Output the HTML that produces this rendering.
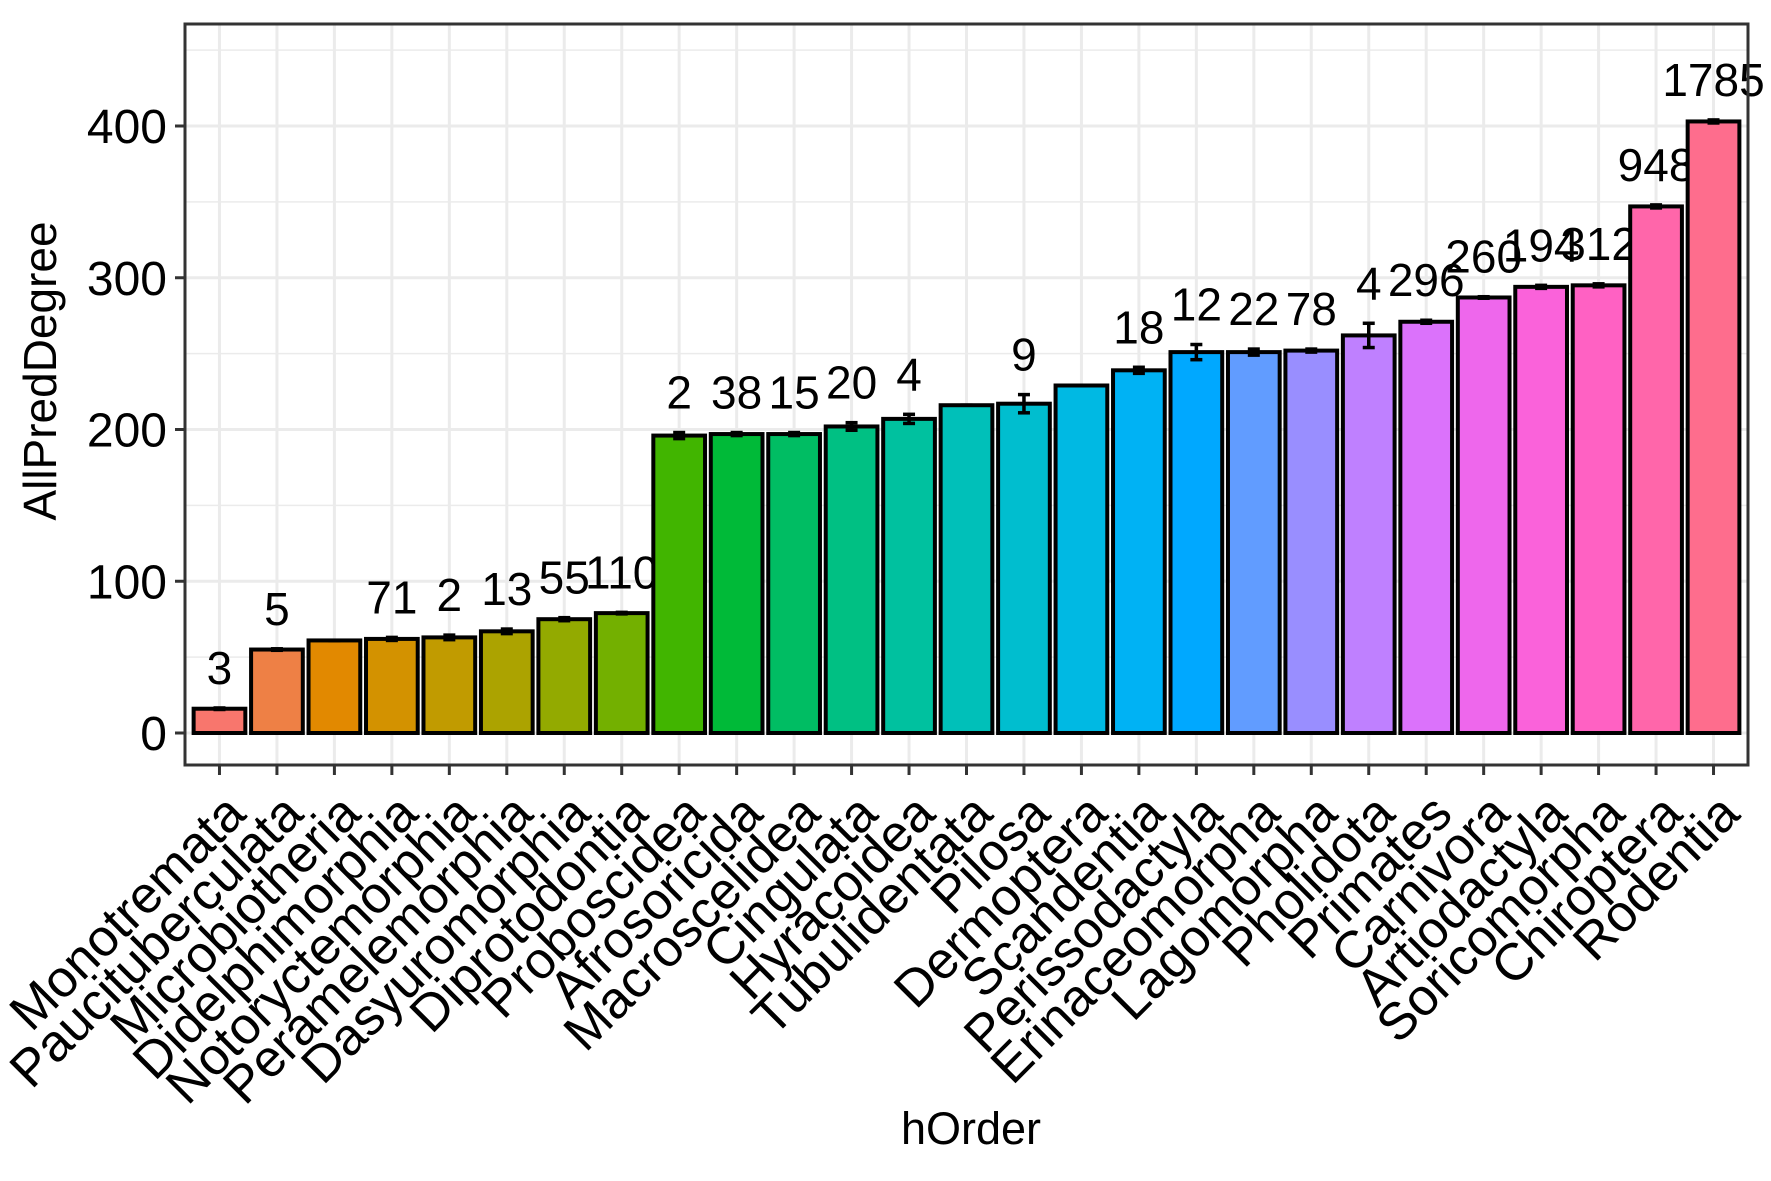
<!DOCTYPE html>
<html><head><meta charset="utf-8"><style>
html,body{margin:0;padding:0;background:#fff;}
svg{display:block;font-family:"Liberation Sans",Arial,sans-serif;}
</style></head><body>
<svg id="chart" width="1771" height="1181" viewBox="0 0 1771 1181" xmlns="http://www.w3.org/2000/svg">
<rect x="0" y="0" width="1771" height="1181" fill="#fff"/>
<g id="grid"></g>
<g id="bars"></g>
<g id="axes"></g>
<text x="44" y="371" transform="rotate(-90 44 371)" text-anchor="middle" dominant-baseline="middle" font-size="46" fill="#000">AllPredDegree</text>
<text x="971" y="1144" text-anchor="middle" font-size="45" fill="#000">hOrder</text>
</svg>
<script>
const categories = ["Monotremata","Paucituberculata","Microbiotheria","Didelphimorphia","Notoryctemorphia","Peramelemorphia","Dasyuromorphia","Diprotodontia","Proboscidea","Afrosoricida","Macroscelidea","Cingulata","Hyracoidea","Tubulidentata","Pilosa","Dermoptera","Scandentia","Perissodactyla","Erinaceomorpha","Lagomorpha","Pholidota","Primates","Carnivora","Artiodactyla","Soricomorpha","Chiroptera","Rodentia"];
const values = [16,55,61,62,63,67,75,79,196,197,197,202,207,216,217,229,239,251,251,252,262,271,287,294,295,347,403];
const errors = [0.5,0.5,0,1,1.5,1.5,1,0.5,2,1,1,2.5,3,0,6,0,2,5,2,1,8,1,0.5,1,1,1,1];
const counts = ["3","5","","71","2","13","55","110","2","38","15","20","4","","9","","18","12","22","78","4","296","260","194","312","948","1785"];
const yTicks = [0,100,200,300,400];

const NS="http://www.w3.org/2000/svg";
const L=185,R=1748,T=24,B=765;
const y0px=733, pxPerUnit=(733-126)/400;
function ys(v){return y0px - v*pxPerUnit;}
const step=(R-L)/(categories.length+0.2);
function xs(i){return L + step*(0.6+i);}
const bw=step*0.9;

function hcl(h,c,l){
  const hr=h*Math.PI/180;
  const Xn=95.047,Yn=100,Zn=108.883;
  const un=4*Xn/(Xn+15*Yn+3*Zn), vn=9*Yn/(Xn+15*Yn+3*Zn);
  const u=c*Math.cos(hr), v=c*Math.sin(hr);
  const Y=Yn*Math.pow((l+16)/116,3);
  const up=u/(13*l)+un, vp=v/(13*l)+vn;
  const X=Y*9*up/(4*vp), Z=Y*(12-3*up-20*vp)/(4*vp);
  const x=X/100,y=Y/100,z=Z/100;
  let r=3.2404542*x-1.5371385*y-0.4985314*z;
  let g=-0.9692660*x+1.8760108*y+0.0415560*z;
  let b=0.0556434*x-0.2040259*y+1.0572252*z;
  const gam=t=>{t=t<=0.0031308?12.92*t:1.055*Math.pow(t,1/2.4)-0.055;return Math.round(Math.max(0,Math.min(1,t))*255);};
  return "rgb("+gam(r)+","+gam(g)+","+gam(b)+")";
}
function mk(tag,attrs,parent){const e=document.createElementNS(NS,tag);for(const k in attrs)e.setAttribute(k,attrs[k]);parent.appendChild(e);return e;}

const grid=document.getElementById('grid'),bars=document.getElementById('bars'),axes=document.getElementById('axes');
let bg=mk('rect',{x:L,y:T,width:R-L,height:B-T,fill:'#fff'},grid);


for(let i=0;i<yTicks.length;i++){
  const mv=yTicks[i]+50; const py=ys(mv);
  if(py>T){let g=mk('line',{x1:L,x2:R,y1:py,y2:py,stroke:'#ebebeb','stroke-width':1.5},grid);
  
  }
}
yTicks.forEach(v=>{let g=mk('line',{x1:L,x2:R,y1:ys(v),y2:ys(v),stroke:'#ebebeb','stroke-width':3},grid);
  
  });
categories.forEach((c,i)=>{let g=mk('line',{x1:xs(i),x2:xs(i),y1:T,y2:B,stroke:'#ebebeb','stroke-width':3},grid);
  
  });

const n=categories.length;
categories.forEach((c,i)=>{
  const hue=15+360*i/n;
  const top=ys(values[i]);
  let r=mk('rect',{x:xs(i)-bw/2,y:top,width:bw,height:ys(0)-top,fill:hcl(hue,100,65),stroke:'#000','stroke-width':4},bars);
  
  
  const e=errors[i];
  const eg=mk('g',{stroke:'#000','stroke-width':3.5},bars);
  
  
  mk('line',{x1:xs(i),x2:xs(i),y1:ys(values[i]+e),y2:ys(values[i]-e)},eg);
  mk('line',{x1:xs(i)-6,x2:xs(i)+6,y1:ys(values[i]+e),y2:ys(values[i]+e)},eg);
  mk('line',{x1:xs(i)-6,x2:xs(i)+6,y1:ys(values[i]-e),y2:ys(values[i]-e)},eg);
  if(counts[i]){
    let t=mk('text',{x:xs(i),y:ys(values[i]+e)-24,'text-anchor':'middle','font-size':46,fill:'#000'},bars);
    t.textContent=counts[i];
    
    
  }
  let tk=mk('line',{x1:xs(i),x2:xs(i),y1:B,y2:B+10,stroke:'#333','stroke-width':3},axes);
  
  
  const ax=xs(i)+2, ay=790;
  let lt=mk('text',{x:ax,y:ay,'text-anchor':'end',dy:'0.72em','font-size':52,fill:'#000',transform:'rotate(-45 '+ax+' '+ay+')'},axes);
  lt.textContent=c;
  
  
});
yTicks.forEach(v=>{
  let tk=mk('line',{x1:L-10,x2:L,y1:ys(v),y2:ys(v),stroke:'#333','stroke-width':3},axes);
  
  
  let t=mk('text',{x:L-18,y:ys(v)+17,'text-anchor':'end','font-size':48,fill:'#000'},axes);
  t.textContent=v;
  
  
});
let border=mk('rect',{x:L,y:T,width:R-L,height:B-T,fill:'none',stroke:'#333','stroke-width':3},axes);


</script>
</body></html>
